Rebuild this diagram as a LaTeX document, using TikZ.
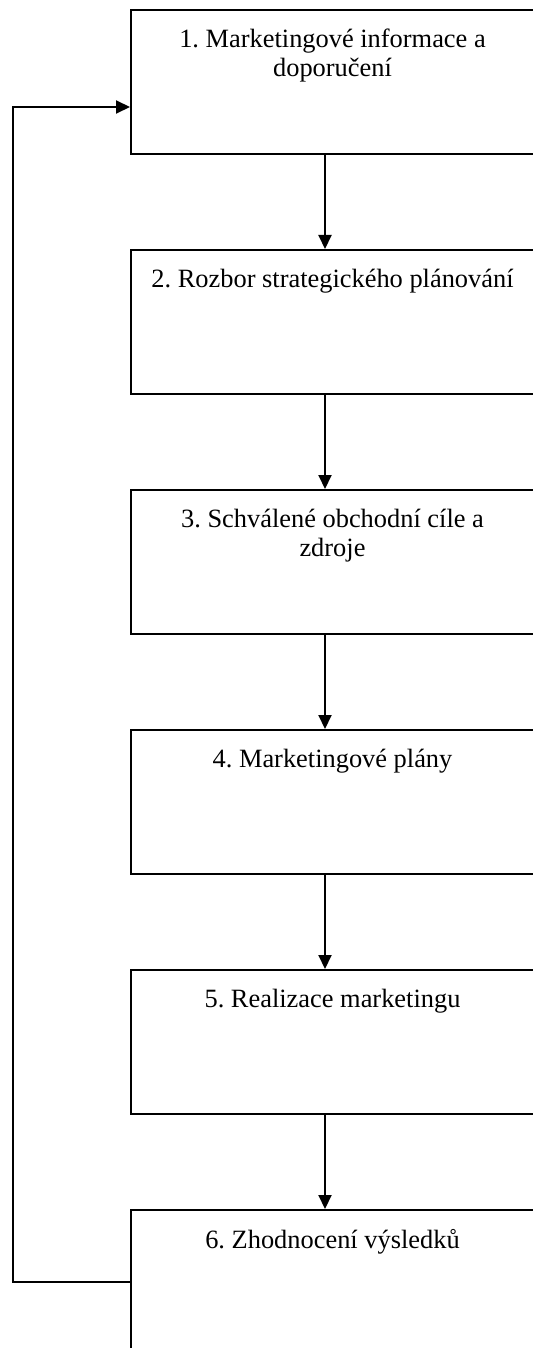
\documentclass[tikz,border=0pt]{standalone}
\usepackage{fontspec}
\setmainfont{Liberation Serif}
\frenchspacing
\usetikzlibrary{positioning,arrows.meta}
\begin{document}
\begin{tikzpicture}[x=0.5pt,y=-0.5pt]
		\tikzset{stage/.style = {shape=rectangle,draw,line width=1pt,minimum width=201.5pt,minimum height=72pt,inner sep=0pt}}
		\tikzset{stagetext/.style = {align=center,inner sep=0pt,font=\fontsize{13.2pt}{14.5pt}\selectfont}}
		\tikzset{flow/.style = {-{Triangle[width=6.5pt,length=7pt]},line width=1pt}}
		\useasboundingbox (0,0) rectangle (533,1348);
		\clip (0,0) rectangle (533,1348);
		\node[stage] (m1) at (332.5,82) {};
		\node[stage] (m2) at (332.5,322) {};
		\node[stage] (m3) at (332.5,562) {};
		\node[stage] (m4) at (332.5,802) {};
		\node[stage] (m5) at (332.5,1042) {};
		\node[stage] (m6) at (332.5,1282) {};
		\node[stagetext, below=10pt of m1.north] (t1) {1. Marketingové informace a\\doporučení};
		\node[stagetext, below=10pt of m2.north] (t2) {2. Rozbor strategického plánování};
		\node[stagetext, below=10pt of m3.north] (t3) {3. Schválené obchodní cíle a\\zdroje};
		\node[stagetext, below=10pt of m4.north] (t4) {4. Marketingové plány};
		\node[stagetext, below=10pt of m5.north] (t5) {5. Realizace marketingu};
		\node[stagetext, below=10pt of m6.north] (t6) {6. Zhodnocení výsledků};
		\coordinate (loop) at (13,1282);
		\draw[flow] ([xshift=97.5pt]m1.south west) -- ([xshift=97.5pt]m2.north west);
		\draw[flow] ([xshift=97.5pt]m2.south west) -- ([xshift=97.5pt]m3.north west);
		\draw[flow] ([xshift=97.5pt]m3.south west) -- ([xshift=97.5pt]m4.north west);
		\draw[flow] ([xshift=97.5pt]m4.south west) -- ([xshift=97.5pt]m5.north west);
		\draw[flow] ([xshift=97.5pt]m5.south west) -- ([xshift=97.5pt]m6.north west);
		\draw[flow] (m6.west) -- (loop) |- ([yshift=-12.5pt]m1.west);
	\end{tikzpicture}
\end{document}
